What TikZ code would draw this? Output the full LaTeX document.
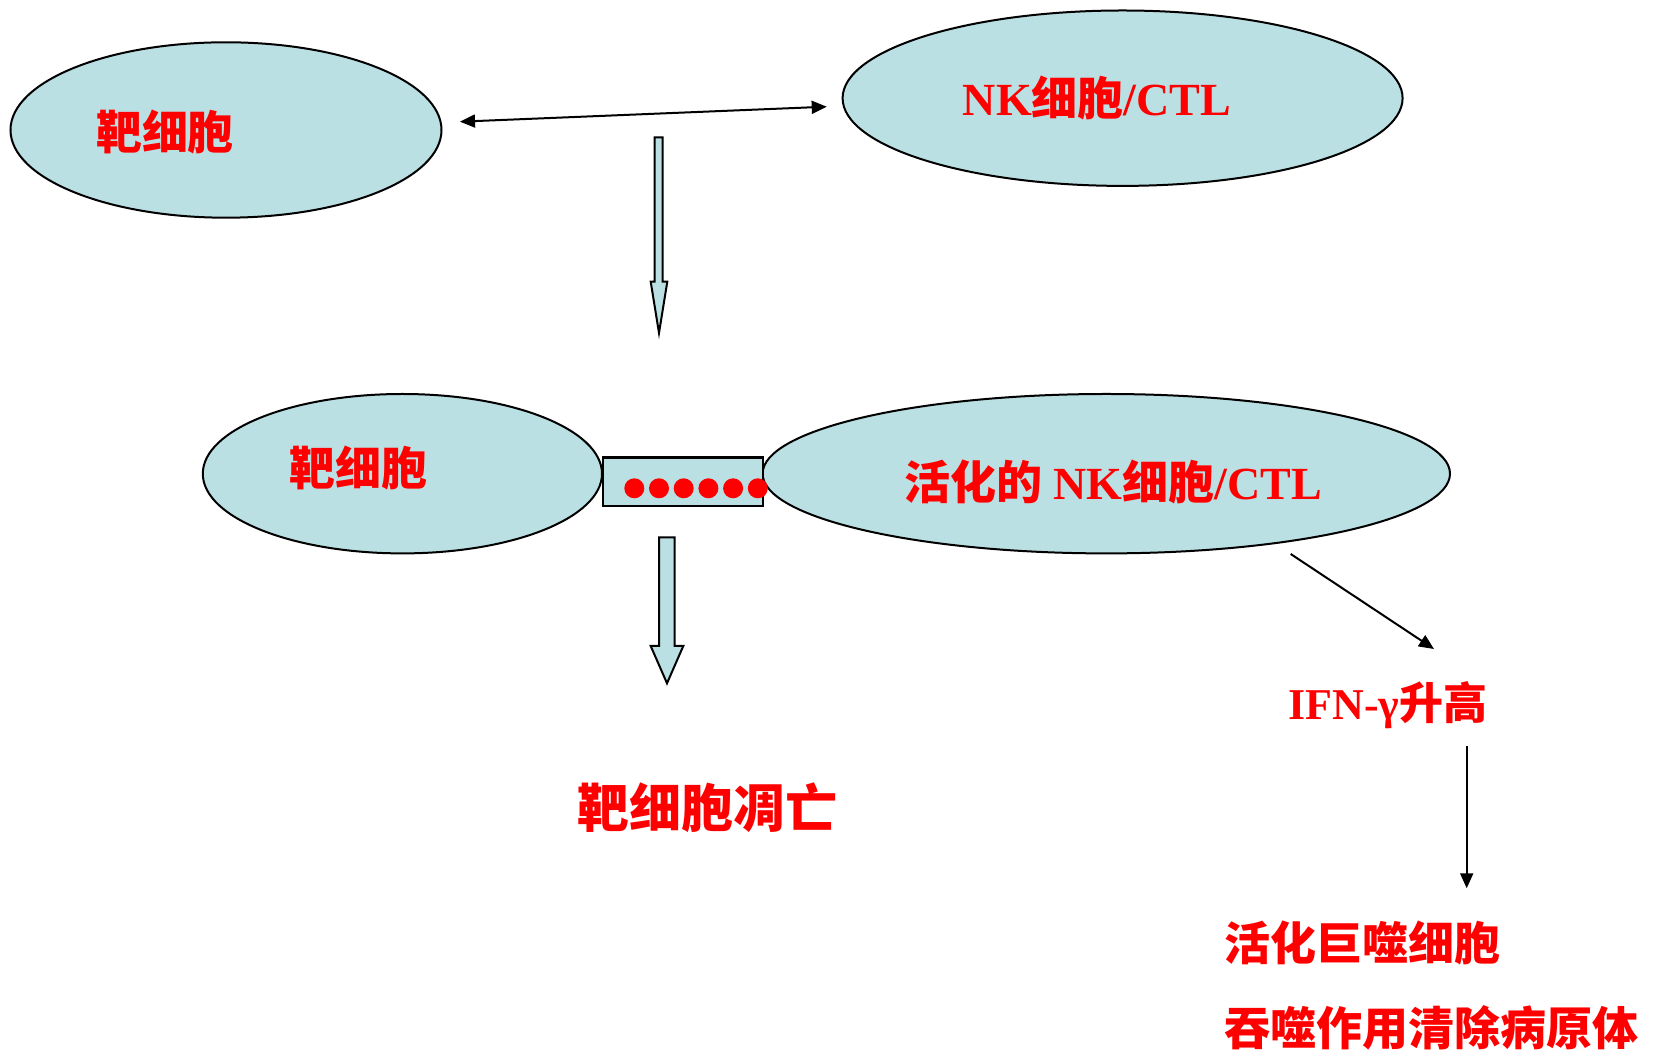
\documentclass[tikz,border=0pt]{standalone}
\usepackage{fontspec}
\setmainfont{Liberation Serif}
\newfontfamily\cjk{Noto Sans CJK SC}
\usetikzlibrary{arrows.meta,shapes.geometric}
\definecolor{cellfill}{RGB}{187,224,227}
\definecolor{txtred}{RGB}{255,0,0}
\tikzset{
  cell/.style={ellipse, draw=black, line width=1pt, fill=cellfill, inner sep=0pt, outer sep=0pt},
  lbl/.style={text=txtred, font=\bfseries\fontsize{23pt}{27pt}\selectfont, inner sep=0pt},
  thinarrow/.style={line width=1pt, -{Triangle[length=7.5pt,width=6.5pt]}},
  blockarrow/.style={draw=black, line width=1pt, fill=cellfill, line join=miter},
}
\begin{document}
\begin{tikzpicture}[x=0.5pt,y=-0.5pt]
\useasboundingbox (0,0) rectangle (1656,1052);

% ellipses
\node[cell, minimum width=215.5pt, minimum height=87.7pt] (t1) at (226,130) {};
\node[cell, minimum width=280pt, minimum height=87.7pt] (nk1) at (1122.6,98.2) {};
\node[cell, minimum width=199.6pt, minimum height=79.7pt] (t2) at (402.4,473.7) {};
\node[cell, minimum width=343.7pt, minimum height=79.7pt] (nk2) at (1106.3,473.7) {};

% synapse rectangle
\node[draw=black, line width=1.2pt, fill=cellfill, minimum width=80pt, minimum height=24.15pt, inner sep=0pt] (syn) at (682.7,481.85) {};
\foreach \k in {0,...,5} {
  \fill[txtred] (634.3+24.7*\k,488.3) circle [radius=5pt];
}

% texts
\node[lbl] (tt1) at (165,132) {\cjk 靶细胞};
\node[lbl] (tnk1) at (1097,98) {NK{\cjk 细胞}/CTL};
\node[lbl] (tt2) at (358,468) {\cjk 靶细胞};
\node[lbl] (tnk2) at (1113,482) {{\cjk 活化的} NK{\cjk 细胞}/CTL};
\node[lbl, font=\bfseries\fontsize{26pt}{30pt}\selectfont] (apop) at (707,808) {\cjk 靶细胞凋亡};
\node[lbl, font=\bfseries\fontsize{22pt}{26pt}\selectfont] (ifn) at (1388,705) {IFN-γ{\cjk 升高}};
\node[lbl, anchor=west] (mac) at (1224,943) {\cjk 活化巨噬细胞};
\node[lbl, anchor=west] (phag) at (1224,1028) {\cjk 吞噬作用清除病原体};

% double arrow between top cells
\coordinate (da1) at (460,121.7);
\coordinate (da2) at (826.7,106.7);
\draw[line width=1pt, {Triangle[length=7.5pt,width=6.5pt]}-{Triangle[length=7.5pt,width=6.5pt]}] (da1) -- (da2);

% block arrow 1
\draw[blockarrow] (654.7,137.3) -- (662.7,137.3) -- (662.7,281.7) -- (667.3,281.7)
  -- (659,333) -- (650.7,281.7) -- (654.7,281.7) -- cycle;

% block arrow 2
\draw[blockarrow] (659,537.3) -- (674.7,537.3) -- (674.7,646) -- (683.3,646)
  -- (667,683.3) -- (650.7,646) -- (659,646) -- cycle;

% arrows to IFN and macrophage
\coordinate (a1s) at (1290.7,554);
\coordinate (a1e) at (1434,649);
\draw[thinarrow] (a1s) -- (a1e);
\coordinate (a2s) at (1466.7,746);
\coordinate (a2e) at (1466.7,888.3);
\draw[thinarrow] (a2s) -- (a2e);
\end{tikzpicture}
\end{document}
